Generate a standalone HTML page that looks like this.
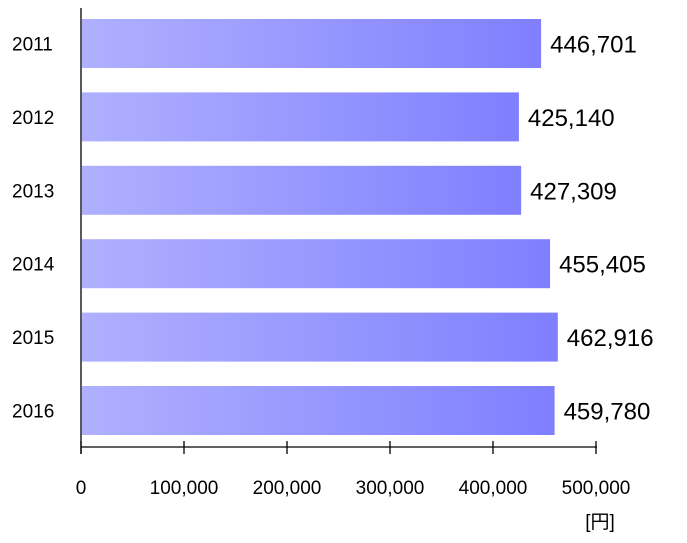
<!DOCTYPE html>
<html><head><meta charset="utf-8"><style>
body{margin:0;background:#fff;width:687px;height:538px;overflow:hidden}
svg{font-family:"Liberation Sans","DejaVu Sans","Noto Sans CJK JP",sans-serif}
</style></head><body>
<svg id="c" width="687" height="538">
<defs><linearGradient id="g" x1="0" x2="1" y1="0" y2="0"><stop offset="0" stop-color="#b0b0ff"/><stop offset="1" stop-color="#7f7fff"/></linearGradient></defs>
</svg>
<script>
const categories=["2011","2012","2013","2014","2015","2016"];
const values=[446701,425140,427309,455405,462916,459780];
const ticks=[0,100000,200000,300000,400000,500000];
const ns="http://www.w3.org/2000/svg";
const svg=document.getElementById('c');
const x0=81,x1=596,xMax=500000;
const X=v=>x0+v/xMax*(x1-x0);
const top0=19,pitch=73.4,bh=49;
const Y=i=>top0+i*pitch;
const fmt=v=>v.toLocaleString('en-US');
function mk(t,a){const e=document.createElementNS(ns,t);for(const k in a)e.setAttribute(k,a[k]);svg.appendChild(e);return e;}
categories.forEach((c,i)=>{
  const r=mk('rect',{x:x0+1,y:Y(i),width:X(values[i])-x0-1,height:bh,fill:'url(#g)'});
  
  
  const t=mk('text',{x:12,y:Y(i)+bh/2+7,'font-size':19,fill:'#000'});
  t.textContent=c;
  
  
  const v=mk('text',{x:X(values[i])+9,y:Y(i)+bh/2+9,'font-size':24,fill:'#000'});
  v.textContent=fmt(values[i]);
  
  
});
const ya=mk('line',{x1:x0,x2:x0,y1:8,y2:454,stroke:'#000','stroke-width':1.3});


const xa=mk('line',{x1:x0,x2:x1+1,y1:447,y2:447,stroke:'#000','stroke-width':1.3});


ticks.forEach(t=>{
  const l=mk('line',{x1:X(t),x2:X(t),y1:441,y2:454,stroke:'#000','stroke-width':1.3});
  
  
  const tx=mk('text',{x:X(t),y:494,'font-size':19,'text-anchor':'middle',fill:'#000'});
  tx.textContent=fmt(t);
  
  
});
const u=mk('text',{x:600,y:528,'font-size':19,'text-anchor':'middle',fill:'#000'});
u.textContent='[円]';


</script>
</body></html>
